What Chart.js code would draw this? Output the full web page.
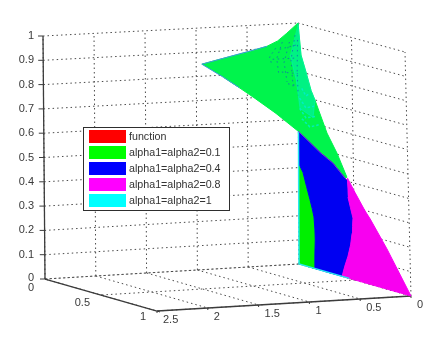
<!DOCTYPE html>
<html>
<head>
<meta charset="utf-8">
<title>alpha surfaces</title>
<script src="https://cdn.jsdelivr.net/npm/chart.js@4"></script>
<style>
  html, body { margin: 0; padding: 0; background: #fff; }
  canvas { display: block; filter: blur(0.35px); }
</style>
</head>
<body>
<canvas id="chartSurface" width="447" height="344"></canvas>
<script>
// tick labels of the three axes
const uTicks = [0, 0.5, 1];
const vTicks = [0, 0.5, 1, 1.5, 2, 2.5];
const zTicks = [0, 0.1, 0.2, 0.3, 0.4, 0.5, 0.6, 0.7, 0.8, 0.9, 1];

// legend
const seriesNames = ['function', 'alpha1=alpha2=0.1', 'alpha1=alpha2=0.4', 'alpha1=alpha2=0.8', 'alpha1=alpha2=1'];
const seriesColors = ['#ff0000', '#00ff00', '#0000ff', '#ff00ff', '#00ffff'];

// surface outlines, each point is [u, v, z]
const functionOutline = [];
const greenUpper = [
  [0, 0.945, 0.85], [0, 0.73, 0.87], [0, 0.5, 0.89], [0, 0.305, 0.91], [0, 0.2, 0.93], [0, 0.11, 0.96], [0, 0, 1],
  [0.027, 0, 0.87], [0.072, 0, 0.806], [0.118, 0, 0.735], [0.154, 0, 0.699], [0.262, 0, 0.576],
  [0.352, 0, 0.504], [0.44, 0, 0.416],
  [0.422, 0, 0.41], [0.314, 0, 0.458], [0.196, 0, 0.488], [0, 0, 0.55],
  [0, 0.22, 0.63], [0, 0.435, 0.7], [0, 0.58, 0.745], [0, 0.73, 0.79]
];
const greenLower = [
  [0, 0, 0.41], [0.01, 0, 0.41], [0.04, 0, 0.385], [0.072, 0, 0.33], [0.102, 0, 0.28], [0.122, 0, 0.245],
  [0.137, 0, 0.213], [0.145, 0, 0.16], [0.147, 0, 0.119], [0.143, 0, 0.06], [0.135, 0, 0], [0, 0, 0]
];
const blueOutline = [
  [0, 0, 0.55], [0.196, 0, 0.488], [0.314, 0, 0.458], [0.422, 0, 0.41], [0.44, 0, 0.405],
  [0.447, 0, 0.335], [0.468, 0, 0.295], [0.49, 0, 0.254], [0.485, 0, 0.22],
  [0.48, 0, 0.19], [0.465, 0, 0.14], [0.44, 0, 0.09], [0.41, 0, 0.045], [0.385, 0, 0], [0.135, 0, 0],
  [0.143, 0, 0.06], [0.147, 0, 0.119], [0.145, 0, 0.16], [0.137, 0, 0.213], [0.122, 0, 0.245], [0.102, 0, 0.28],
  [0.072, 0, 0.33], [0.04, 0, 0.385], [0.01, 0, 0.41], [0, 0, 0.41]
];
const magentaOutline = [
  [0.44, 0, 0.405], [0.445, 0, 0.413], [0.512, 0, 0.362], [0.6, 0, 0.298], [0.645, 0, 0.271], [0.793, 0, 0.166], [1, 0, 0],
  [0.385, 0, 0], [0.41, 0, 0.045], [0.44, 0, 0.09], [0.465, 0, 0.14], [0.48, 0, 0.19], [0.485, 0, 0.22],
  [0.49, 0, 0.254], [0.468, 0, 0.295], [0.447, 0, 0.335]
];
const cyanOutline = [
  [0, 0, 1], [0.027, 0, 0.87], [0.072, 0, 0.806], [0.118, 0, 0.735], [0.154, 0, 0.699], [0.135, 0, 0.625],
  [0.015, 0, 0.647], [0, 0.02, 0.765], [0, 0.08, 0.87]
];
const cyanEdge = [[0, 0, 0.55], [0, 0, 0], [0.45, 0, 0]];
const blueDiagonal = [[0, 0, 0.55], [0.196, 0, 0.488], [0.314, 0, 0.458], [0.422, 0, 0.41], [0.44, 0, 0.405]];
const tipEdge = [[0, 0.305, 0.91], [0, 0.73, 0.87], [0, 0.945, 0.85], [0, 0.73, 0.79], [0, 0.58, 0.745]];
const cyanScallops = [
  [[0.032, 0, 0.733], [0.07, 0, 0.706], [0.105, 0, 0.72]],
  [[0.012, 0, 0.69], [0.07, 0, 0.656], [0.145, 0, 0.673]],
  [[0.012, 0, 0.647], [0.07, 0, 0.615], [0.165, 0, 0.633]],
  [[0.032, 0, 0.607], [0.105, 0, 0.582], [0.2, 0, 0.604]]
];
const peakSpecks = [
  [[0, 0.03, 0.95], [0, 0.07, 0.848], [0, 0.05, 0.732]],
  [[0, 0.085, 0.923], [0, 0.138, 0.84], [0, 0.11, 0.758]],
  [[0, 0.155, 0.924], [0, 0.21, 0.857], [0, 0.19, 0.79]],
  [[0, 0.22, 0.9], [0, 0.28, 0.865], [0, 0.26, 0.835]],
  [[0, 0.005, 0.93], [0, 0.01, 0.805], [0, 0.002, 0.7]],
  [[0, 0.18, 0.895], [0, 0.01, 0.91]],
  [[0, 0.25, 0.855], [0, 0.02, 0.855]],
  [[0, 0.16, 0.8], [0, 0.005, 0.79]],
  [[0, 0.1, 0.75], [0, 0.005, 0.74]]
];

// corners of the box on the picture, [floor, top]
const cornerA = [[45, 279], [43, 36]];    // u=0 v=2.5
const cornerB = [[157, 311], [155, 67]];  // u=1 v=2.5
const cornerC = [[411, 296], [405, 52]];  // u=1 v=0
const cornerD = [[299, 264], [298, 23]];  // u=0 v=0

const mix = (a, b, t) => a + (b - a) * t;

function project(p) {
  const u = p[0], w = p[1] / 2.5, z = p[2];
  const at = (i, k) => mix(
    mix(cornerD[k][i], cornerC[k][i], u),
    mix(cornerA[k][i], cornerB[k][i], u),
    w
  );
  return { x: mix(at(0, 0), at(0, 1), z), y: mix(at(1, 0), at(1, 1), z) };
}

const surface = (points, color, order) => ({
  data: points.map(project),
  showLine: true,
  fill: 'shape',
  backgroundColor: color,
  borderColor: color,
  borderWidth: 1,
  pointRadius: 0,
  tension: 0,
  order: order
});

const edge = (points, color, width, order, dash) => ({
  data: points.map(project),
  showLine: true,
  fill: false,
  borderColor: color,
  borderWidth: width,
  borderDash: dash || [],
  pointRadius: 0,
  tension: 0,
  order: order
});

const datasets = [
  surface(functionOutline, seriesColors[0], 9),
  surface(greenUpper, '#00f44c', 8),
  surface(greenLower, '#00f000', 7),
  surface(blueOutline, '#0000f2', 6),
  surface(magentaOutline, '#f800f0', 5),
  surface(cyanOutline, 'rgba(0,240,215,0.4)', 4),
  edge(cyanEdge, '#28e8f0', 1.5, 3),
  edge(blueDiagonal, '#8028d0', 1, 2),
  edge(tipEdge, '#3a9ad8', 1, 2)
].concat(
  cyanScallops.map(line => edge(line, 'rgba(0,235,215,0.8)', 1.5, 1, [2.5, 2])),
  peakSpecks.map(line => edge(line, 'rgba(20,90,190,0.7)', 1, 1, [1.5, 3.5]))
);

// grid, axes, tick labels and legend box
const boxPlugin = {
  id: 'boxPlugin',
  beforeDatasetsDraw(chart) {
    const { ctx, scales } = chart;
    const px = p => {
      const q = project(p);
      return [scales.x.getPixelForValue(q.x), scales.y.getPixelForValue(q.y)];
    };
    const line = (a, b) => {
      const s = px(a), e = px(b);
      ctx.beginPath();
      ctx.moveTo(s[0], s[1]);
      ctx.lineTo(e[0], e[1]);
      ctx.stroke();
    };

    ctx.save();
    ctx.strokeStyle = '#4a4a4a';
    ctx.lineWidth = 1;
    ctx.setLineDash([1.5, 3]);
    zTicks.forEach(z => {
      line([0, 2.5, z], [0, 0, z]);
      line([0, 0, z], [1, 0, z]);
    });
    vTicks.forEach(v => {
      line([0, v, 0], [0, v, 1]);
      line([0, v, 0], [1, v, 0]);
    });
    uTicks.forEach(u => {
      line([u, 0, 0], [u, 0, 1]);
      line([u, 0, 0], [u, 2.5, 0]);
    });

    ctx.setLineDash([]);
    ctx.strokeStyle = '#3c3c3c';
    ctx.lineWidth = 1.3;
    line([0, 2.5, 0], [0, 2.5, 1]);
    line([0, 2.5, 0], [1, 2.5, 0]);
    line([1, 2.5, 0], [1, 0, 0]);

    ctx.fillStyle = '#3a3a3a';
    ctx.font = '11px "Liberation Sans", Arial, sans-serif';
    ctx.textBaseline = 'middle';
    ctx.lineWidth = 1;

    ctx.textAlign = 'right';
    zTicks.forEach(z => {
      const s = px([0, 2.5, z]);
      ctx.beginPath();
      ctx.moveTo(s[0] - 5, s[1]);
      ctx.lineTo(s[0], s[1]);
      ctx.stroke();
      ctx.fillText(String(z), 34, s[1] - (z === 0 ? 1 : 0));
    });
    uTicks.forEach(u => {
      const s = px([u, 2.5, 0]);
      ctx.beginPath();
      ctx.moveTo(s[0], s[1]);
      ctx.lineTo(s[0] + 3, s[1] + 1);
      ctx.stroke();
      ctx.fillText(String(u), s[0] - 11, s[1] + 9 - 3 * u);
    });
    ctx.textAlign = 'left';
    vTicks.forEach(v => {
      const s = px([1, v, 0]);
      ctx.beginPath();
      ctx.moveTo(s[0], s[1]);
      ctx.lineTo(s[0], s[1] + 2);
      ctx.stroke();
      ctx.fillText(String(v), s[0] + 6, s[1] + 9);
    });
    ctx.restore();
  },
  afterDatasetsDraw(chart) {
    const { ctx } = chart;
    ctx.save();
    ctx.fillStyle = '#ffffff';
    ctx.fillRect(83, 127, 147, 83);
    ctx.strokeStyle = '#2e2e2e';
    ctx.lineWidth = 1;
    ctx.strokeRect(83.5, 127.5, 146, 83);
    ctx.font = '10.7px "Liberation Sans", Arial, sans-serif';
    ctx.textAlign = 'left';
    ctx.textBaseline = 'middle';
    seriesNames.forEach((name, i) => {
      const top = 130 + i * 16;
      ctx.fillStyle = seriesColors[i];
      ctx.fillRect(89, top, 37, 13);
      ctx.fillStyle = '#333333';
      ctx.fillText(name, 129, top + 7);
    });
    ctx.restore();
  }
};

new Chart(document.getElementById('chartSurface'), {
  type: 'scatter',
  data: { datasets: datasets },
  options: {
    responsive: false,
    animation: false,
    layout: { padding: 0 },
    plugins: {
      legend: { display: false },
      tooltip: { enabled: false }
    },
    scales: {
      x: { type: 'linear', display: false, min: 0, max: 447 },
      y: { type: 'linear', display: false, min: 0, max: 344, reverse: true }
    }
  },
  plugins: [boxPlugin]
});
</script>
</body>
</html>
